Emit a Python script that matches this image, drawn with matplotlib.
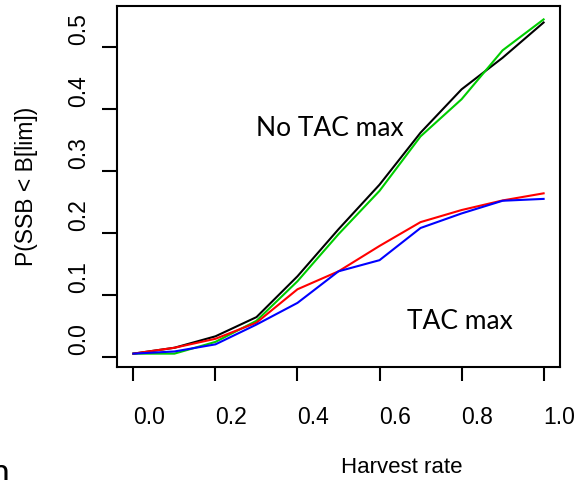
import numpy as np
import matplotlib
matplotlib.use('Agg')
import matplotlib.pyplot as plt
import matplotlib.transforms as mtransforms

# Valors llegits del grafic
rate = [0.0, 0.1, 0.2, 0.3, 0.4, 0.5, 0.6, 0.7, 0.8, 0.9, 1.0]
p_black = [0.005, 0.0145, 0.033, 0.064, 0.130, 0.206, 0.278, 0.362, 0.432, 0.483, 0.540]
p_green = [0.005, 0.005, 0.024, 0.058, 0.122, 0.198, 0.268, 0.356, 0.416, 0.495, 0.545]
p_red = [0.005, 0.0145, 0.029, 0.055, 0.109, 0.138, 0.179, 0.2175, 0.237, 0.2525, 0.264]
p_blue = [0.005, 0.0085, 0.020, 0.052, 0.087, 0.138, 0.156, 0.208, 0.2315, 0.252, 0.255]

xticks = [0.0, 0.2, 0.4, 0.6, 0.8, 1.0]
yticks = [0.0, 0.1, 0.2, 0.3, 0.4, 0.5]

plt.rcParams['font.family'] = ['Liberation Sans', 'DejaVu Sans']

fig = plt.figure(figsize=(5.78, 4.81), dpi=100)
ax = fig.add_axes([0.2024, 0.2349, 0.7665, 0.7505])

ax.plot(rate, p_black, color='black', lw=1.5)
ax.plot(rate, p_green, color='#00CD00', lw=1.5)
ax.plot(rate, p_red, color='#FF0000', lw=1.5)
ax.plot(rate, p_blue, color='#0000FF', lw=1.5)

# limits a l'estil de R (4% extra)
ax.set_xlim(-0.04, 1.04)
ax.set_ylim(-0.0166, 0.5666)

for s in ax.spines.values():
    s.set_linewidth(1.5)

ax.set_xticks(xticks)
ax.set_xticklabels([f'{v:.1f}' for v in xticks], ha='left')
ax.set_yticks(yticks)
ax.set_yticklabels([f'{v:.1f}' for v in yticks], rotation=90, va='bottom')
ax.tick_params(axis='x', length=10, width=1.5, pad=17, labelsize=16.5)
ax.tick_params(axis='y', length=11, width=1.5, pad=8.4, labelsize=16.5)

# etiquetes de l'eix y una mica amunt, com a l'original
shift = mtransforms.ScaledTranslation(0, 3 / 100, fig.dpi_scale_trans)
for lab in ax.get_yticklabels():
    lab.set_transform(lab.get_transform() + shift)

ax.text(0.30, 0.359, 'No TAC max', fontsize=19, family=['Lato', 'DejaVu Sans'], va='baseline')
ax.text(0.666, 0.047, 'TAC max', fontsize=19, family=['Lato', 'DejaVu Sans'], va='baseline')

fig.text(27 / 578, 1 - 186 / 481, 'P(SSB < B[lim])', rotation=90, fontsize=16.5, ha='center', va='center')
fig.text(401.7 / 578, 1 - 468 / 481, 'Harvest rate', fontsize=16, ha='center', va='center')
fig.text(-0.017, 1 - 458 / 481, 'n', fontsize=24, family=['Lato', 'DejaVu Sans'], ha='left', va='top')

fig.savefig('out.png', dpi=100)
